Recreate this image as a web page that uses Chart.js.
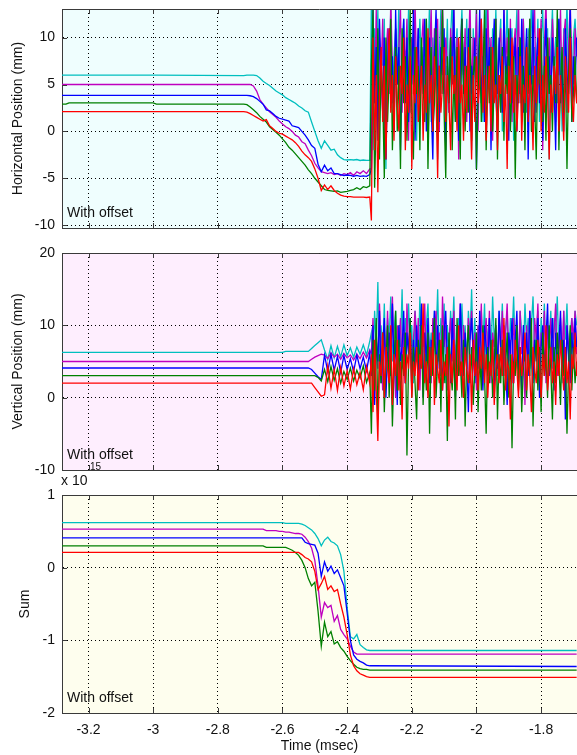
<!DOCTYPE html>
<html>
<head>
<meta charset="utf-8">
<script src="https://cdn.jsdelivr.net/npm/chart.js@4.4.1/dist/chart.umd.min.js"></script>
<style>
  html, body { margin: 0; padding: 0; background: #ffffff; }
  #wrap { position: relative; width: 577px; height: 755px; overflow: hidden; }
  canvas { position: absolute; left: 0; }
</style>
</head>
<body>
<div id="wrap">
  <canvas id="hPos" width="577" height="240" style="top:0px"></canvas>
  <canvas id="vPos" width="577" height="240" style="top:240px"></canvas>
  <canvas id="sumPanel" width="577" height="300" style="top:455px"></canvas>
</div>
<script>
// ---- sample times (ms) ----
const leadTimes = [-3.29, -3.27, -3.26, -3.00, -2.99];   // sparse samples on the quiet baseline
const rampStart = -2.72;                                 // 40 samples across the beam loss
const rampStep = 0.01;
const rampCount = 40;
const burstStart = -2.325;                               // dense samples once the signal is noise
const burstStep = 0.005;
const sumEndTime = -1.69;                                // sum traces are flat after the drop

// ---- axes ----
const xTickValues = [-3.2, -3, -2.8, -2.6, -2.4, -2.2, -2, -1.8];
const xLimits = [-3.282, -1.689];
const hTickValues = [-10, -5, 0, 5, 10];
const hLimits = [-10.3, 13.05];
const vTickValues = [-10, 0, 10, 20];
const vLimits = [-10, 20];
const sumTickValues = [-2, -1, 0, 1];
const sumLimits = [-2, 1];
const sumExponent = '15';

// ---- horizontal position (mm), with offset ----
const hCyan = [
  6.0, 6.0, 6.0, 6.0, 6.0,
  5.95, 6.0, 6.0, 6.0, 5.95, 5.7, 5.35, 5.1, 4.9, 4.6,
  4.3, 4.1, 3.9, 3.6, 3.4, 3.2, 3.0, 2.7, 2.5, 2.2,
  2.05, 1.0, 0.0, -1.0, -1.8, -1.0, -1.5, -2.0, -1.9, -2.5,
  -2.8, -3.0, -3.05, -3.0, -3.05, -3.0, -3.1, -3.05, -3.1, -3.1,
  14, -2, 11, 5, 13, 1, 9, 7, 12, -4, 10, 6, 13, 3, 8, 11,
  5, 14, 0, 9, 12, 4, 7, 13, 2, 10, 6, 11, -1, 8, 12, 6,
  9, 3, 12, 7, 14, 1, 10, 5, 11, -3, 8, 13, 4, 9, 6, 12,
  2, 10, 14, 5, 8, 11, 0, 9, 13, 6, 7, 12, 3, 10, -2, 11,
  7, 13, 4, 9, 12, 1, 8, 14, 6, 10, 2, 11, 7, 13, 5, 9,
  12, 0, 10, 7, 14, 3, 9, 11, -1, 8, 13, 6, 10, 4, 12, 7,
  2, 11, 8, 14, 5, 9, 6, 12, 1, 10, 13, 4, 7, 11, -3, 9,
  13, 6, 10, 3, 12, 8, 0, 11, 7, 14, 5, 9, 2, 10, 12, 8
];
const hMagenta = [
  5.0, 5.0, 5.0, 5.0, 5.0,
  5.0, 5.0, 5.0, 4.85, 4.3, 3.4, 2.9, 2.5, 2.1, 1.8,
  1.5, 1.1, 0.8, 0.5, 0.3, 0.0, -0.4, -0.6, -1.1, -1.3,
  -2.0, -2.6, -3.4, -3.9, -4.3, -4.4, -4.5, -4.4, -4.6, -4.5,
  -4.7, -4.5, -4.6, -4.4, -4.7, -4.3, -4.5, -4.2, -4.5, -4.0,
  -4, 9, 3, 13, 1, 10, 6, 12, -2, 8, 11, 4, 14, 7, 0, 11,
  5, 9, 13, 2, 10, 7, 12, -1, 8, 10, 4, 14, 6, 11, 1, 9,
  12, 5, 10, -2, 8, 13, 3, 11, 6, 12, 0, 9, 14, 4, 10, 7,
  2, 11, 8, 13, 5, 10, -3, 9, 12, 6, 11, 1, 8, 14, 4, 10,
  7, 13, 0, 9, 12, 5, 11, 3, 14, 6, 10, -1, 8, 12, 4, 9,
  11, 2, 13, 7, 10, 5, 12, 1, 9, 11, 6, 14, 3, 8, 12, 0,
  10, 6, 12, 4, 9, 13, 2, 11, 7, 12, -2, 9, 14, 5, 10, 3,
  12, 8, 1, 11, 6, 13, 4, 10, 12, 2, 9, 14, 7, 5, 11, 8
];
const hBlue = [
  3.85, 3.85, 3.85, 3.85, 3.85,
  3.85, 3.85, 3.8, 3.7, 3.5, 3.2, 2.9, 2.3, 2.2, 1.9,
  1.6, 1.4, 1.3, 1.2, 1.1, 0.6, 0.5, 0.4, 0.0, -0.4,
  -0.9, -1.5, -1.8, -3.5, -4.3, -3.6, -4.2, -3.9, -4.5, -4.5,
  -4.6, -4.7, -4.65, -4.7, -4.8, -4.7, -4.8, -4.75, -4.8, -4.6,
  -4, 13, 3, 9, -1, 12, 6, 2, 10, -3, 7, 11, 4, 8, 0, 13,
  5, 9, -2, 7, 12, 3, 10, 1, 8, 5, 13, -1, 6, 11, 2, 9,
  4, 12, 0, 7, 10, 3, -3, 8, 13, 5, 1, 9, 6, 11, -2, 7,
  3, 10, 5, 13, 1, 8, -1, 6, 12, 4, 9, 2, 11, 0, 7, 5,
  10, -4, 6, 13, 3, 8, 1, 11, 5, 9, -2, 7, 12, 4, 0, 10,
  6, 2, 13, 5, 8, -1, 11, 3, 7, 10, 0, 9, 4, 12, 2, 6,
  11, -3, 8, 5, 13, 1, 7, 10, 3, 9, -1, 6, 12, 4, 8, 2,
  10, 5, -2, 9, 12, 3, 7, 0, 11, 6, 4, 13, 1, 8, 5, 10
];
const hGreen = [
  2.9, 2.9, 3.05, 3.05, 2.9,
  2.9, 2.85, 2.6, 2.3, 2.0, 1.6, 1.3, 1.0, 0.5, 0.2,
  -0.1, -0.4, -0.8, -1.2, -1.7, -2.0, -2.4, -2.8, -3.2, -3.6,
  -4.1, -4.5, -5.0, -5.4, -5.8, -6.2, -6.3, -6.35, -6.4, -6.35,
  -6.5, -6.45, -6.4, -6.3, -6.2, -6.0, -6.2, -5.9, -6.0, -5.8,
  7, 13, -6, 2, 11, -3, 8, 4, -5, 10, 1, 6, 12, -2, 5, 9,
  0, 7, -4, 11, 3, 8, -1, 6, 13, 2, -3, 9, 4, 7, -2, 10,
  5, 1, 12, -4, 6, 9, 0, 3, 11, -1, 7, 4, 13, 2, -5, 8,
  3, 10, -2, 6, 1, 9, 4, -3, 12, 5, 0, 7, 2, 11, -1, 6,
  8, -4, 4, 10, 1, 6, 13, -2, 7, 3, 9, 0, 5, 12, -3, 6,
  2, 9, -1, 7, 4, 11, 0, 5, 8, -5, 6, 3, 10, 1, 7, -2,
  9, 4, 12, 0, 6, 3, -3, 8, 5, 11, 1, 7, -1, 10, 4, 6,
  0, 8, 3, 13, -2, 5, 9, 2, 7, -4, 6, 11, 1, 4, 8, 3
];
const hRed = [
  2.1, 2.1, 2.1, 2.1, 2.1,
  2.1, 2.05, 1.9, 1.7, 1.5, 1.3, 1.1, 1.25, 0.6, 0.3,
  0.0, -0.2, -0.3, -0.5, -0.7, -0.9, -1.2, -1.6, -2.1, -2.5,
  -2.8, -3.2, -4.0, -5.0, -6.3, -5.7, -6.2, -5.8, -6.3, -6.6,
  -6.8, -6.9, -6.95, -6.95, -7.0, -7.0, -7.0, -7.0, -7.05, -7.0,
  -9.5, 10, -2, 6, -6.5, 4, 9, 1, 7, -3, 5, 11, 2, 6, -1, 8,
  3, 0, 7, 4, 10, -2, 5, 2, 8, -4, 6, 3, 9, 1, 4, 7,
  -1, 5, 2, 11, 3, 6, 0, 8, 4, -5, 7, 2, 5, 9, 1, 6,
  3, -2, 8, 4, 6, 0, 10, 3, 5, -1, 7, 2, 9, 4, -3, 6,
  1, 8, 3, 5, 12, 2, 6, -1, 4, 7, 0, 9, 3, 5, -2, 6,
  4, 8, 1, 5, -4, 7, 3, 10, 2, 6, 0, 4, 8, -1, 5, 3,
  9, 1, 6, 4, -2, 7, 3, 5, 11, 0, 6, 2, 8, 4, -3, 5,
  2, 7, 4, 9, 0, 6, 3, -1, 8, 5, 2, 10, 4, 1, 6, 3
];

// ---- vertical position (mm), with offset ----
const vCyan = [
  6.25, 6.25, 6.25, 6.25, 6.25,
  6.25, 6.25, 6.25, 6.25, 6.25, 6.25, 6.25, 6.25, 6.25, 6.25,
  6.25, 6.25, 6.25, 6.4, 6.4, 6.4, 6.4, 6.4, 6.4, 6.4,
  6.4, 6.8, 7.2, 7.6, 8.0, 6.6, 5.3, 7.2, 5.5, 7.1,
  5.6, 7.3, 5.8, 6.9, 5.6, 7.0, 6.0, 7.3, 5.9, 7.8,
  9, 5, 12, 7, 16, 4, 10, 6, 13, 3, 11, 8, 14, 5, 9, 12,
  3, 10, 7, 15, 4, 11, 8, 13, 6, 10, 2, 12, 9, 5, 14, 7,
  11, 3, 10, 13, 6, 9, 4, 12, 8, 15, 5, 11, 7, 13, 2, 10,
  6, 12, 8, 14, 5, 9, 11, 3, 13, 7, 10, 4, 12, 8, 15, 6,
  11, 2, 10, 6, 12, 7, 13, 4, 9, 11, 5, 14, 8, 10, 3, 12,
  7, 13, 5, 9, 12, 4, 11, 8, 14, 6, 10, 2, 12, 9, 5, 13,
  8, 11, 4, 10, 14, 6, 9, 12, 3, 11, 7, 13, 5, 10, 8, 12,
  4, 11, 9, 14, 6, 10, 2, 12, 8, 13, 5, 9, 11, 7, 12, 10
];
const vMagenta = [
  5.0, 5.0, 5.0, 5.0, 5.0,
  5.0, 5.0, 5.0, 5.0, 5.0, 5.0, 5.0, 5.0, 5.0, 5.0,
  5.0, 5.0, 5.0, 5.0, 5.0, 5.0, 5.0, 5.0, 5.0, 5.0,
  5.0, 5.3, 5.6, 5.8, 6.0, 5.9, 5.4, 6.2, 5.6, 6.0,
  5.3, 6.1, 5.5, 5.9, 5.2, 6.0, 5.4, 6.3, 5.5, 6.6,
  6, 11, 2, 9, 4, 13, 7, 1, 10, 5, 12, 3, 8, 14, 6, 0,
  10, 7, 11, 4, 9, 2, 13, 6, 10, 3, 8, 12, 5, 11, 1, 9,
  7, 13, 4, 10, 6, 2, 11, 8, 12, 5, 9, 3, 14, 7, 10, 1,
  8, 11, 5, 12, 3, 9, 6, 13, 2, 10, 7, 4, 11, 8, 12, 5,
  9, 1, 10, 6, 13, 3, 8, 11, 5, 12, 2, 9, 7, 10, 4, 11,
  6, 12, 3, 9, 13, 5, 8, 2, 11, 7, 10, 4, 12, 6, 9, -1,
  10, 5, 12, 7, 3, 11, 8, 13, 4, 9, 6, 12, 2, 10, 7, 11,
  5, 9, 13, 3, 8, 11, 6, 12, 1, 10, 7, 4, 11, 8, 12, 6
];
const vBlue = [
  4.1, 4.1, 4.1, 4.1, 4.1,
  4.1, 4.1, 4.1, 4.1, 4.1, 4.1, 4.1, 4.1, 4.1, 4.1,
  4.1, 4.1, 4.1, 4.1, 4.1, 4.1, 4.1, 4.1, 4.1, 4.1,
  4.1, 3.9, 3.4, 2.9, 2.5, 5.9, 3.6, 6.0, 3.8, 5.7,
  3.5, 5.8, 3.9, 5.4, 3.6, 5.9, 4.0, 5.6, 3.7, 6.2,
  3, 10, -1, 8, 5, 12, 2, 7, 11, 0, 6, 9, 3, 13, 4, 8,
  -1, 10, 5, 7, 12, 2, 9, 6, 11, 1, 8, 4, 10, 3, 7, 13,
  0, 9, 5, 11, 2, 8, 6, 12, 3, 10, 4, 7, 1, 9, 12, 5,
  8, 2, 11, 6, 0, 10, 4, 13, 7, 3, 9, 5, -2, 8, 11, 6,
  2, 9, 4, 12, 6, 1, 10, 7, 3, 11, 5, 8, 0, 9, 4, 12,
  7, 3, 10, 5, -1, 9, 6, 11, 2, 8, 12, 4, 7, 1, 10, 5,
  9, 3, 12, 6, 2, 8, 5, 11, 0, 7, 10, 4, 8, 13, 3, 6,
  11, 1, 9, 5, 7, 12, 3, 8, -3, 10, 6, 2, 9, 5, 11, 7
];
const vGreen = [
  3.05, 3.05, 3.05, 3.05, 3.05,
  3.05, 3.05, 3.05, 3.05, 3.05, 3.05, 3.05, 3.05, 3.05, 3.05,
  3.05, 3.05, 3.05, 3.05, 3.05, 3.05, 3.05, 3.05, 3.05, 3.05,
  3.05, 3.05, 3.05, 2.8, 2.3, 3.9, 2.2, 4.3, 2.4, 4.0,
  2.0, 3.6, 2.5, 4.1, 2.3, 3.8, 2.7, 4.4, 2.1, 3.5,
  -5, 8, 1, 11, -3, 6, 2, 9, -2, 5, 10, 0, 7, -4, 4, 12,
  1, 8, -1, 6, 3, 9, -8, 5, 11, 0, 7, 2, -3, 8, 4, 10,
  -1, 6, 1, 9, -5, 7, 3, 11, 0, 5, 8, -2, 10, 2, 6, -6,
  9, 4, 1, 7, -3, 11, 3, 5, 0, 8, -4, 6, 10, 2, 7, -1,
  4, 9, -2, 6, 1, 10, 3, -5, 7, 2, 8, 0, 5, 11, -3, 6,
  2, 8, -1, 4, 9, 0, 6, -7, 5, 3, 10, 1, 7, -2, 4, 8,
  0, 6, 3, 11, -4, 5, 8, 1, 7, -2, 9, 3, 6, 0, 10, 4,
  -3, 7, 2, 9, 5, -1, 8, 3, 6, -5, 4, 10, 1, 7, 2, 5
];
const vRed = [
  2.0, 2.0, 2.0, 2.0, 2.0,
  2.0, 2.0, 2.0, 2.0, 2.0, 2.0, 2.0, 2.0, 2.0, 2.0,
  2.0, 2.0, 2.0, 2.0, 2.0, 2.0, 2.0, 2.0, 2.0, 2.0,
  2.0, 2.0, 1.4, 0.8, 0.2, 0.4, 4.4, 1.3, 3.9, 1.0,
  4.2, 1.6, 3.7, 1.2, 4.0, 1.8, 3.5, 1.1, 4.3, 2.0,
  6, -2, 8, 1, -6, 5, 3, 9, 0, 7, 4, 2, 10, -1, 6, 3,
  8, 1, 5, -3, 7, 2, 6, 4, 9, 0, 5, 3, 7, 1, 6, 4,
  13, 2, 5, 0, 7, 3, 9, -1, 6, 4, 2, 8, 1, 5, 3, 7,
  -4, 6, 2, 8, 4, 1, 10, 3, 5, 0, 7, 4, 2, 6, -2, 8,
  3, 5, 1, 7, 4, 9, 2, 6, 0, 5, 3, 8, -1, 4, 6, 2,
  7, 3, 11, 1, 5, 4, -3, 6, 2, 8, 4, 0, 7, 3, 5, 9,
  1, 6, 3, -2, 7, 4, 2, 8, 5, 0, 6, 3, 10, 1, 4, 7,
  2, 5, -1, 6, 3, 8, 4, 1, 7, 2, 5, -3, 6, 4, 9, 3
];

// ---- sum signal (x 10^15), with offset ----
const sCyan = [
  0.62, 0.62, 0.62, 0.62, 0.62,
  0.62, 0.62, 0.62, 0.62, 0.62, 0.62, 0.62, 0.62, 0.62, 0.62,
  0.62, 0.62, 0.62, 0.61, 0.61, 0.61, 0.61, 0.61, 0.60, 0.58,
  0.55, 0.52, 0.47, 0.40, 0.30, 0.38, 0.42, 0.36, 0.34, 0.30,
  0.18, -0.05, -0.55, -0.95, -0.98, -0.92, -1.06, -1.10, -1.13, -1.14,
  -1.14
];
const sMagenta = [
  0.53, 0.53, 0.53, 0.53, 0.53,
  0.53, 0.53, 0.53, 0.53, 0.53, 0.53, 0.53, 0.51, 0.51, 0.51,
  0.51, 0.50, 0.50, 0.49, 0.49, 0.48, 0.47, 0.47, 0.46, 0.42,
  0.36, 0.27, 0.10, -0.25, -0.68, -0.48, -0.55, -0.52, -0.74, -0.66,
  -0.85, -0.92, -0.98, -1.08, -1.16, -1.19, -1.19, -1.19, -1.19, -1.19,
  -1.19
];
const sBlue = [
  0.41, 0.41, 0.41, 0.41, 0.41,
  0.41, 0.41, 0.41, 0.41, 0.41, 0.41, 0.41, 0.41, 0.41, 0.41,
  0.41, 0.41, 0.41, 0.41, 0.41, 0.41, 0.41, 0.41, 0.41, 0.35,
  0.33, 0.32, 0.31, 0.20, -0.12, 0.08, -0.05, 0.02, -0.08, -0.03,
  -0.14, -0.25, -0.62, -1.00, -1.20, -1.26, -1.29, -1.31, -1.34, -1.35,
  -1.36
];
const sGreen = [
  0.30, 0.30, 0.30, 0.30, 0.30,
  0.30, 0.30, 0.30, 0.30, 0.30, 0.30, 0.30, 0.28, 0.28, 0.28,
  0.28, 0.28, 0.28, 0.28, 0.26, 0.24, 0.21, 0.17, 0.10, 0.00,
  -0.15, -0.25, -0.20, -0.60, -1.08, -0.75, -0.95, -0.88, -1.05, -1.02,
  -1.10, -1.15, -1.22, -1.28, -1.33, -1.37, -1.39, -1.40, -1.40, -1.41,
  -1.41
];
const sRed = [
  0.21, 0.21, 0.21, 0.21, 0.21,
  0.21, 0.21, 0.21, 0.21, 0.21, 0.21, 0.21, 0.21, 0.21, 0.21,
  0.21, 0.21, 0.21, 0.21, 0.21, 0.21, 0.21, 0.21, 0.18, 0.14,
  0.12, 0.08, -0.05, -0.30, -0.22, -0.12, -0.30, -0.25, -0.33, -0.30,
  -0.50, -0.68, -0.92, -1.20, -1.35, -1.42, -1.46, -1.48, -1.50, -1.51,
  -1.51
];

// ---- helpers ----
function sampleTime(i) {
  if (i < leadTimes.length) return leadTimes[i];
  const r = i - leadTimes.length;
  if (r < rampCount) return +(rampStart + r * rampStep).toFixed(3);
  return +(burstStart + (r - rampCount) * burstStep).toFixed(3);
}
function toPoints(values, endTime) {
  return values.map((y, i) => ({
    x: (endTime !== undefined && i === values.length - 1) ? endTime : sampleTime(i),
    y
  }));
}

const FONT = '"Liberation Sans", Arial, Helvetica, sans-serif';
Chart.defaults.font.family = FONT;
Chart.defaults.font.size = 14;
Chart.defaults.color = '#111111';

const TRACE = { cyan: '#00bfbf', magenta: '#bf00bf', blue: '#0000ff', green: '#008000', red: '#ff0000' };
const BOX = '#3a3a3a';

// background, box top edge, inward tick marks and the panel note
const panelDecor = {
  id: 'panelDecor',
  beforeDraw(chart, args, opts) {
    const { ctx, chartArea: a } = chart;
    ctx.save();
    ctx.fillStyle = opts.background;
    ctx.fillRect(a.left, a.top, a.right - a.left, a.bottom - a.top);
    ctx.restore();
  },
  afterDraw(chart, args, opts) {
    const { ctx, chartArea: a, scales } = chart;
    const xs = scales.x, ys = scales.y;
    ctx.save();
    ctx.strokeStyle = BOX;
    ctx.lineWidth = 1;
    ctx.beginPath();
    const top = Math.round(a.top) + 0.5;
    ctx.moveTo(a.left, top);
    ctx.lineTo(a.right, top);
    xs.ticks.forEach(t => {
      const px = Math.round(xs.getPixelForValue(t.value)) + 0.5;
      ctx.moveTo(px, a.bottom); ctx.lineTo(px, a.bottom - 5);
      ctx.moveTo(px, a.top); ctx.lineTo(px, a.top + 5);
    });
    ys.ticks.forEach(t => {
      const py = Math.round(ys.getPixelForValue(t.value)) + 0.5;
      ctx.moveTo(a.left, py); ctx.lineTo(a.left + 5, py);
    });
    ctx.stroke();

    ctx.fillStyle = '#111111';
    ctx.textAlign = 'left';
    ctx.textBaseline = 'alphabetic';
    ctx.font = '14px ' + FONT;
    ctx.fillText(opts.note, a.left + 5, a.bottom - 11);
    if (opts.exponent) {
      ctx.fillText('x 10', a.left - 1, a.top - 10);
      ctx.font = '10px ' + FONT;
      ctx.fillText(opts.exponent, a.left + 28, a.top - 25);
    }
    ctx.restore();
  }
};

function xAxis(height, showLabels) {
  return {
    type: 'linear',
    min: xLimits[0], max: xLimits[1],
    afterBuildTicks: s => { s.ticks = xTickValues.map(v => ({ value: v })); },
    afterFit: s => { s.height = height; s.paddingLeft = 0; s.paddingRight = 0; },
    grid: { color: '#000000', lineWidth: 1, drawTicks: false },
    border: { display: true, color: BOX, width: 1, dash: [1, 3] },
    ticks: { display: showLabels, padding: 9, autoSkip: false, maxRotation: 0, color: '#111111', callback: v => String(v) },
    title: { display: showLabels, text: 'Time (msec)', color: '#111111', padding: { top: 0, bottom: 0 } }
  };
}
function yAxis(limits, tickValues, title, titlePad) {
  return {
    type: 'linear',
    min: limits[0], max: limits[1],
    afterBuildTicks: s => { s.ticks = tickValues.map(v => ({ value: v })); },
    afterFit: s => { s.width = 62; s.paddingTop = 0; s.paddingBottom = 0; },
    grid: { color: '#000000', lineWidth: 1, drawTicks: false },
    border: { display: true, color: BOX, width: 1, dash: [1, 3] },
    ticks: { padding: 7, autoSkip: false, color: '#111111', callback: v => String(v) },
    title: { display: true, text: title, color: '#111111', padding: { top: titlePad, bottom: 0 } }
  };
}

function traces(list, endTime) {
  // red is listed first so it is painted last, on top of the others
  return list.map(([values, color]) => ({
    data: toPoints(values, endTime),
    borderColor: color,
    borderWidth: 1.3,
    pointRadius: 0,
    tension: 0,
    fill: false
  }));
}

function makePanel(id, datasets, cfg) {
  return new Chart(document.getElementById(id), {
    type: 'line',
    data: { datasets },
    options: {
      responsive: false,
      animation: false,
      events: [],
      layout: { padding: { top: cfg.padTop, left: 0, right: 0, bottom: 0 } },
      plugins: {
        legend: { display: false },
        tooltip: { enabled: false },
        panelDecor: { background: cfg.background, note: 'With offset', exponent: cfg.exponent }
      },
      scales: {
        x: xAxis(cfg.xHeight, cfg.showX),
        y: yAxis(cfg.yLimits, cfg.yTicks, cfg.yTitle, cfg.titlePad)
      }
    },
    plugins: [panelDecor]
  });
}

makePanel('hPos', traces([
  [hRed, TRACE.red], [hGreen, TRACE.green], [hBlue, TRACE.blue], [hMagenta, TRACE.magenta], [hCyan, TRACE.cyan]
]), { padTop: 9, xHeight: 12, showX: false, yLimits: hLimits, yTicks: hTickValues,
      yTitle: 'Horizontal Position (mm)', titlePad: 10, background: '#effefe' });

makePanel('vPos', traces([
  [vRed, TRACE.red], [vGreen, TRACE.green], [vBlue, TRACE.blue], [vMagenta, TRACE.magenta], [vCyan, TRACE.cyan]
]), { padTop: 13, xHeight: 10, showX: false, yLimits: vLimits, yTicks: vTickValues,
      yTitle: 'Vertical Position (mm)', titlePad: 10, background: '#feeefe' });

makePanel('sumPanel', traces([
  [sRed, TRACE.red], [sGreen, TRACE.green], [sBlue, TRACE.blue], [sMagenta, TRACE.magenta], [sCyan, TRACE.cyan]
], sumEndTime), { padTop: 40, xHeight: 42, showX: true, yLimits: sumLimits, yTicks: sumTickValues,
      yTitle: 'Sum', titlePad: 17, background: '#fefeee', exponent: sumExponent });
</script>
</body>
</html>
